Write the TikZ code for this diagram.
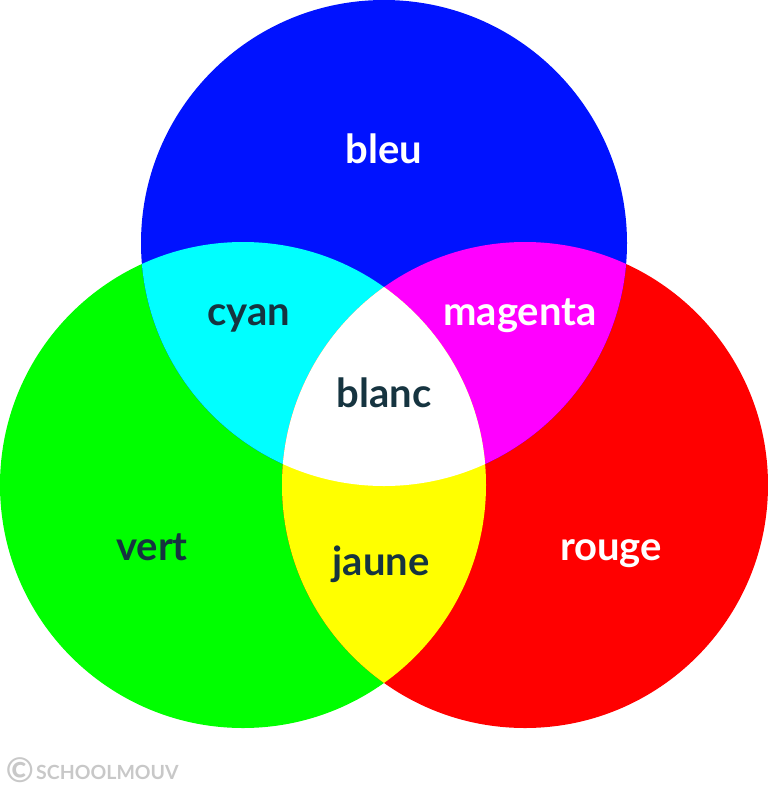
\documentclass[tikz,border=0pt]{standalone}
\usepackage{fontspec}
\setmainfont{Lato}[UprightFont=* Bold]
\usepackage{tikz}
\usepackage{xcolor}

\definecolor{bleu}{RGB}{0,18,255}
\definecolor{vert}{RGB}{0,255,0}
\definecolor{rouge}{RGB}{255,0,0}
\definecolor{cyan}{RGB}{0,255,255}
\definecolor{magenta}{RGB}{255,0,255}
\definecolor{jaune}{RGB}{255,255,0}
\definecolor{encre}{RGB}{22,52,64}
\definecolor{filigrane}{RGB}{200,200,200}

\tikzset{
    nom/.style={anchor=base, font=\fontsize{40}{40}\selectfont},
    nomclair/.style={nom, text=white},
    nomfonce/.style={nom, text=encre}
}

\begin{document}
\begin{tikzpicture}[x=1pt,y=-1pt]
    \useasboundingbox (0,0) rectangle (768,788);
    \coordinate (B) at (384,243);
    \coordinate (V) at (243,485);
    \coordinate (R) at (525,485);
    % disques primaires
    \fill[vert] (V) circle (243pt);
    \fill[rouge] (R) circle (243pt);
    \fill[bleu] (B) circle (243pt);
    % intersections
    \begin{scope}
        \clip (B) circle (243pt);
        \fill[cyan] (V) circle (243pt);
        \fill[magenta] (R) circle (243pt);
    \end{scope}
    \begin{scope}
        \clip (V) circle (243pt);
        \fill[jaune] (R) circle (243pt);
        \clip (R) circle (243pt);
        \fill[white] (B) circle (243pt);
    \end{scope}
    % noms
    \node[nomclair] (bleu) at (384,163) {bleu};
    \node[nomfonce] (cyan) at (249,325) {cyan};
    \node[nomclair] (magenta) at (520,325) {magenta};
    \node[nomfonce] (blanc) at (384,407) {blanc};
    \node[nomfonce] (vert) at (152,560) {vert};
    \node[nomfonce] (jaune) at (381,575) {jaune};
    \node[nomclair] (rouge) at (611,560) {rouge};
    % filigrane
    \node[text=filigrane, font=\fontsize{34}{34}\selectfont, inner sep=0pt] (copy) at (20,770) {\textcopyright};
    \node[anchor=base west, text=filigrane, inner sep=0pt, font=\fontsize{19.5}{19.5}\selectfont] (logo) at (36,779) {SCHOOLMOUV};
\end{tikzpicture}
\end{document}
